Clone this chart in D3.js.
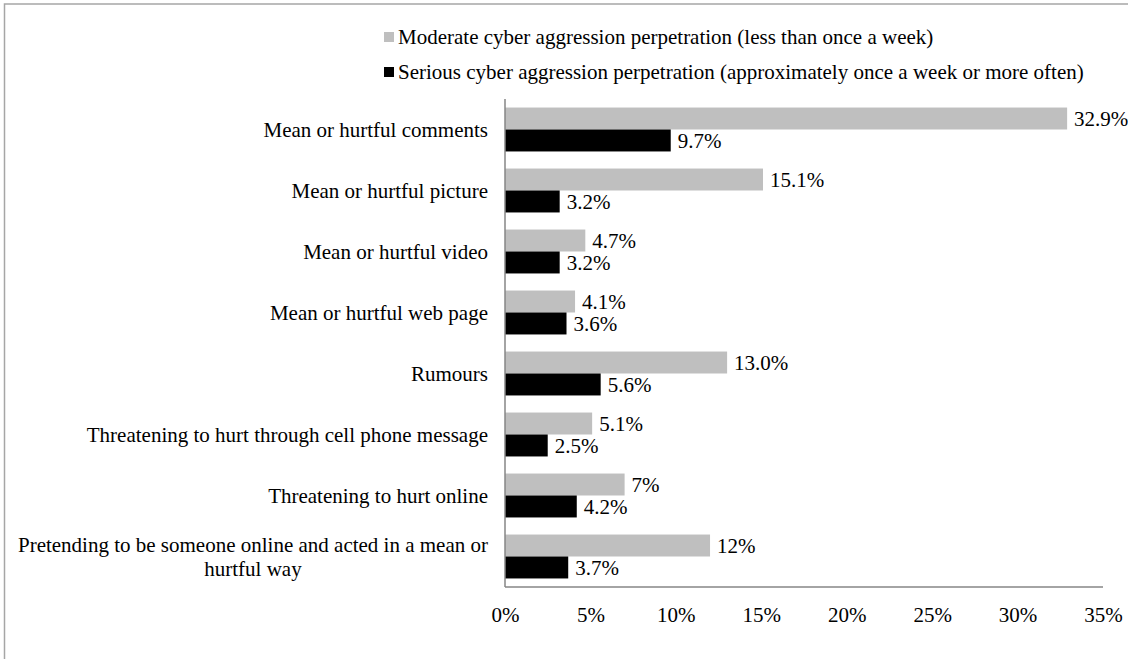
<!DOCTYPE html>
<html>
<head>
<meta charset="utf-8">
<script src="https://cdn.jsdelivr.net/npm/d3@7"></script>
<style>
  html, body { margin: 0; padding: 0; background: #fff; }
  svg { display: block; }
  svg text { font-family: "Liberation Serif", "Times New Roman", serif; fill: #000; }
</style>
</head>
<body>
<svg id="chart" width="1128" height="659"></svg>
<script>
// Cyber aggression perpetration by behaviour type (% of respondents)
const categories = [
  "Mean or hurtful comments",
  "Mean or hurtful picture",
  "Mean or hurtful video",
  "Mean or hurtful web page",
  "Rumours",
  "Threatening to hurt through cell phone message",
  "Threatening to hurt online",
  "Pretending to be someone online and acted in a mean or hurtful way"
];
const moderateValues = [32.9, 15.1, 4.7, 4.1, 13.0, 5.1, 7, 12];
const seriousValues  = [9.7, 3.2, 3.2, 3.6, 5.6, 2.5, 4.2, 3.7];
const moderateLabels = ["32.9%", "15.1%", "4.7%", "4.1%", "13.0%", "5.1%", "7%", "12%"];
const seriousLabels  = ["9.7%", "3.2%", "3.2%", "3.6%", "5.6%", "2.5%", "4.2%", "3.7%"];
const seriesNames = [
  "Moderate cyber aggression perpetration (less than once a week)",
  "Serious cyber aggression perpetration (approximately once a week or more often)"
];
const seriesColors = ["#bfbfbf", "#000000"];
const xTicks = [0, 5, 10, 15, 20, 25, 30, 35];

const svg = d3.select("#chart");
const W = 1128, H = 659;
const plot = { left: 505, right: 1103, top: 99, bottom: 587 };
const fontSize = 21;

// outer chart frame (only the top and left edges fall inside the canvas)
svg.append("path")
  .attr("d", `M4.5,${H} L4.5,4 L${W},4`)
  .attr("fill", "none")
  .attr("stroke", "#a6a6a6")
  .attr("stroke-width", 1.5);

const x = d3.scaleLinear().domain([0, 35]).range([plot.left, plot.right]);
const y = d3.scaleBand().domain(categories).range([plot.top, plot.bottom])
  .paddingInner(0.28).paddingOuter(0.14);
const sub = d3.scaleBand().domain([0, 1]).range([0, y.bandwidth()]);

const rows = categories.map((c, i) => ({
  cat: c,
  vals: [
    { s: 0, v: moderateValues[i], label: moderateLabels[i] },
    { s: 1, v: seriousValues[i], label: seriousLabels[i] }
  ]
}));

const groups = svg.append("g").selectAll("g").data(rows).join("g")
  .attr("transform", d => `translate(0,${y(d.cat)})`);

groups.selectAll("rect").data(d => d.vals).join("rect")
  .attr("x", x(0))
  .attr("y", d => sub(d.s))
  .attr("width", d => x(d.v) - x(0))
  .attr("height", sub.bandwidth())
  .attr("fill", d => seriesColors[d.s]);

groups.selectAll("text.val").data(d => d.vals).join("text")
  .attr("class", "val")
  .attr("x", d => x(d.v) + 7)
  .attr("y", d => sub(d.s) + sub.bandwidth() / 2)
  .attr("dy", "0.34em")
  .attr("font-size", fontSize)
  .text(d => d.label);

// x axis tick labels
const xAxis = d3.axisBottom(x).tickValues(xTicks).tickSize(0).tickPadding(20)
  .tickFormat(d => d + "%");
const gx = svg.append("g").attr("transform", `translate(0,${plot.bottom})`).call(xAxis);
gx.select(".domain").remove();
gx.selectAll("text")
  .attr("font-size", fontSize)
  .attr("font-family", "Liberation Serif, Times New Roman, serif")
  .style("fill", "#000");

// axis lines
svg.append("line")
  .attr("x1", plot.left).attr("x2", plot.right)
  .attr("y1", plot.bottom).attr("y2", plot.bottom)
  .attr("stroke", "#868686").attr("stroke-width", 1.5);
svg.append("line")
  .attr("x1", plot.left).attr("x2", plot.left)
  .attr("y1", plot.top).attr("y2", plot.bottom)
  .attr("stroke", "#868686").attr("stroke-width", 1.5);

// category labels (long names wrap onto two centred lines)
const wrapAt = { "Pretending to be someone online and acted in a mean or hurtful way":
  ["Pretending to be someone online and acted in a mean or", "hurtful way"] };
const labelRight = 488;
categories.forEach(c => {
  const cy = y(c) + y.bandwidth() / 2;
  const lines = wrapAt[c];
  if (!lines) {
    svg.append("text").attr("x", labelRight).attr("y", cy).attr("dy", "0.34em")
      .attr("text-anchor", "end").attr("font-size", fontSize).text(c);
  } else {
    const t = svg.append("text").attr("font-size", fontSize);
    const first = t.append("tspan").attr("x", labelRight).attr("y", cy - 12).attr("dy", "0.34em")
      .attr("text-anchor", "end").text(lines[0]);
    const w = first.node().getComputedTextLength();
    t.append("tspan").attr("x", labelRight - w / 2).attr("y", cy + 12).attr("dy", "0.34em")
      .attr("text-anchor", "middle").text(lines[1]);
  }
});

// legend
const legend = svg.append("g").attr("transform", "translate(384,0)");
const legendY = [37, 72];
seriesNames.forEach((name, i) => {
  legend.append("rect").attr("x", 0).attr("y", legendY[i] - 5).attr("width", 10).attr("height", 10)
    .attr("fill", seriesColors[i]);
  legend.append("text").attr("x", 14).attr("y", legendY[i]).attr("dy", "0.34em")
    .attr("font-size", fontSize).text(name);
});
</script>
</body>
</html>
